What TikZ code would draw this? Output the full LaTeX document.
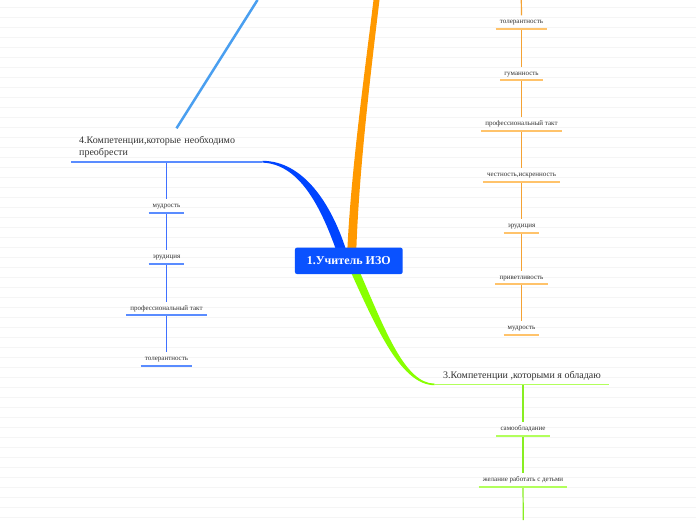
\documentclass[tikz,border=0pt]{standalone}
\usepackage{fontspec}
\setmainfont{Liberation Serif}
\usetikzlibrary{calc}
\definecolor{txt}{HTML}{333333}
\definecolor{cnode}{HTML}{0A52FF}
\definecolor{omain}{HTML}{FF9900}
\definecolor{oul}{HTML}{FFC36B}
\definecolor{ovl}{HTML}{F4A234}
\definecolor{bmain}{HTML}{0044FF}
\definecolor{bul}{HTML}{5A8CFF}
\definecolor{bvl}{HTML}{3F70FF}
\definecolor{gmain}{HTML}{88FF00}
\definecolor{gul}{HTML}{B2FF5C}
\definecolor{gvl}{HTML}{88EE22}
\definecolor{lblue}{HTML}{4A9FF0}
\definecolor{bgl}{HTML}{F5F5F5}
\tikzset{
  item/.style={font=\fontsize{7}{8}\selectfont, text=txt, inner xsep=4pt, inner ysep=3.25pt,
    text height=5pt, text depth=1.5pt, anchor=south},
  branchlabel/.style={font=\fontsize{10}{12}\selectfont, text=txt, anchor=south},
  central/.style={fill=cnode, text=white, rounded corners=2pt, minimum width=107.7pt,
    minimum height=26.3pt, inner sep=0pt, font=\bfseries\fontsize{12}{14}\selectfont},
  ounder/.style={draw=oul, line width=1.5pt},
  bunder/.style={draw=bul, line width=1.6pt},
  gunder/.style={draw=gul, line width=1.5pt},
  overt/.style={draw=ovl, line width=1.2pt},
  bvert/.style={draw=bvl, line width=1.2pt},
  gvert/.style={draw=gvl, line width=1.2pt},
  bgline/.style={draw=bgl, line width=0.7pt},
}
\begin{document}
\begin{tikzpicture}[x=1pt,y=-1pt]
\useasboundingbox (0,0) rectangle (696,520);
\fill[white] (0,0) rectangle (696,520);
\foreach \y in {7.5,17.5,...,517.5} \draw[bgline] (0,\y) -- (696,\y);

\coordinate (cn) at (348.8,247.7);
\coordinate (cs) at (348.8,274);

% branch labels
\node[branchlabel, inner xsep=8.5pt, inner ysep=3pt] (g) at (522,384.3) {3.Компетенции ,которыми я обладаю};
\node[branchlabel, anchor=south west, align=left, text width=175pt, inner xsep=8pt, inner ysep=4pt,
  font=\fontsize{10}{11.5}\selectfont] (b) at (71,161.7) {4.Компетенции,которые необходимо\\преобрести};

% orange column
\coordinate (otop) at (521.3,0);
\node[item] (o1) at (521.5,28.8) {толерантность};
\node[item] (o2) at (521.5,80) {гуманность};
\node[item] (o3) at (521.5,130.8) {профессиональный такт};
\node[item] (o4) at (521.5,181.8) {честность,искренность};
\node[item] (o5) at (521.5,232.8) {эрудиция};
\node[item] (o6) at (521.5,284) {приветливость};
\node[item] (o7) at (521.5,334.8) {мудрость};
\draw[overt] (otop) -- (o1.north);
\foreach \a/\b in {o1/o2,o2/o3,o3/o4,o4/o5,o5/o6,o6/o7} \draw[overt] (\a.south) -- (\b.north);
\foreach \n in {o1,o2,o3,o4,o5,o6,o7} \draw[ounder] (\n.south west) -- (\n.south east);

% blue column
\node[item] (b1) at (166.5,212.8) {мудрость};
\node[item] (b2) at (166.5,263.8) {эрудиция};
\node[item] (b3) at (166.5,315) {профессиональный такт};
\node[item] (b4) at (166.5,365.8) {толерантность};
\draw[bvert] (b1.north |- b.south) -- (b1.north);
\foreach \a/\b in {b1/b2,b2/b3,b3/b4} \draw[bvert] (\a.south) -- (\b.north);
\foreach \n in {b1,b2,b3,b4} \draw[bunder] (\n.south west) -- (\n.south east);
\draw[bunder] (b.south west) -- (b.south east);

% green column
\coordinate (gbot) at (523.3,520);
\node[item] (g1) at (523,435.8) {самообладание};
\node[item] (g2) at (523,486.8) {желание работать с детьми};
\draw[gvert] (g1.north |- g.south) -- (g1.north);
\draw[gvert] (g1.south) -- (g2.north);
\draw[gvert] (g2.south) -- (gbot);
\foreach \n in {g1,g2} \draw[gunder] (\n.south west) -- (\n.south east);
\draw[gunder] (g.south west) -- (g.south east);

% light blue line
\coordinate (lbtop) at (257.5,0);
\coordinate (lbbot) at (176.5,128.3);
\draw[lblue, line width=2.5pt] (lbbot) -- (lbtop);

% orange main branch
\coordinate (omtop) at (376.5,0);
\fill[omain] ($(cn)+(-1.5,3)$) .. controls (351,170) and (365,70) .. ($(omtop)+(-3,0)$)
  -- ($(omtop)+(3,0)$) .. controls (371,70) and (359,170) .. ($(cn)+(7.5,3)$) -- cycle;

% blue main branch (tapered)
\fill[bmain] ($(b.south east)+(0,-0.9)$) .. controls (303,161) and (331,203) .. ($(cn)+(-2.8,2)$)
  -- ($(cn)+(-12.8,2)$) .. controls (321,208) and (300,164) .. ($(b.south east)+(0,0.9)$) -- cycle;

% green main branch (tapered)
\fill[gmain] ($(cs)+(11,-2)$) .. controls (385,330) and (405,383.5) .. ($(g.south west)+(0,-0.7)$)
  -- ($(g.south west)+(0,0.9)$) .. controls (402,385) and (378,332) .. ($(cs)+(2,-2)$) -- cycle;

% central node
\node[central] (c) at (348.8,260.85) {1.Учитель ИЗО};
\end{tikzpicture}
\end{document}
